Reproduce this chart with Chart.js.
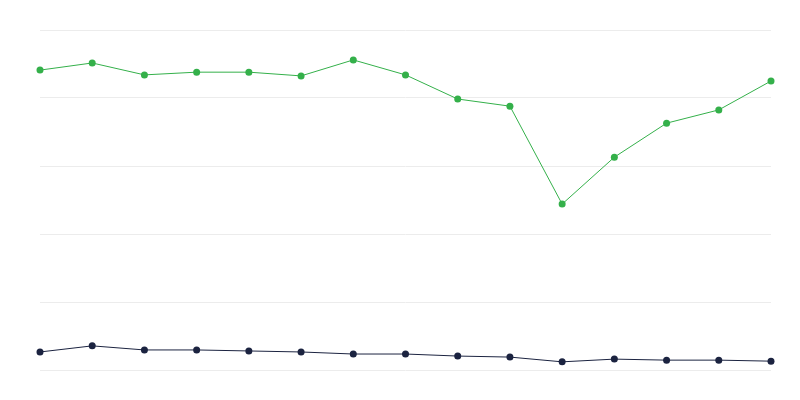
<!DOCTYPE html>
<html lang="en">
<head>
    <meta charset="UTF-8">
    <title>Line Chart</title>
    <script src="https://cdn.jsdelivr.net/npm/chart.js"></script>
    <style>
        body {
            margin: 0;
            padding: 0;
            background-color: #fff;
        }
        .chart-box {
            width: 800px;
            height: 400px;
        }
    </style>
</head>
<body>
    <div class="chart-box">
        <canvas id="lineChart"></canvas>
    </div>

    <script>
        const labels = ['1', '2', '3', '4', '5', '6', '7', '8', '9', '10', '11', '12', '13', '14', '15'];
        const greenValues = [88.2, 90.3, 86.8, 87.6, 87.6, 86.5, 91.2, 86.8, 79.7, 77.6, 48.8, 62.6, 72.6, 76.5, 85.0];
        const darkValues = [5.3, 7.1, 5.9, 5.9, 5.6, 5.3, 4.7, 4.7, 4.1, 3.8, 2.4, 3.2, 2.9, 2.9, 2.6];

        const ctx = document.getElementById('lineChart').getContext('2d');
        new Chart(ctx, {
            type: 'line',
            data: {
                labels: labels,
                datasets: [{
                    data: greenValues,
                    borderColor: '#34b04a',
                    backgroundColor: '#34b04a',
                    borderWidth: 1,
                    pointRadius: 3.5,
                    pointBorderWidth: 0,
                    tension: 0
                }, {
                    data: darkValues,
                    borderColor: '#1b2340',
                    backgroundColor: '#1b2340',
                    borderWidth: 1,
                    pointRadius: 3.5,
                    pointBorderWidth: 0,
                    tension: 0
                }]
            },
            options: {
                responsive: true,
                maintainAspectRatio: false,
                animation: false,
                layout: {
                    padding: { left: 40, right: 29, top: 30, bottom: 30 }
                },
                plugins: {
                    legend: { display: false },
                    tooltip: { enabled: false }
                },
                scales: {
                    x: {
                        display: false
                    },
                    y: {
                        min: 0,
                        max: 100,
                        ticks: { display: false, stepSize: 20 },
                        grid: { color: '#ececec', drawTicks: false },
                        border: { display: false }
                    }
                }
            }
        });
    </script>
</body>
</html>
